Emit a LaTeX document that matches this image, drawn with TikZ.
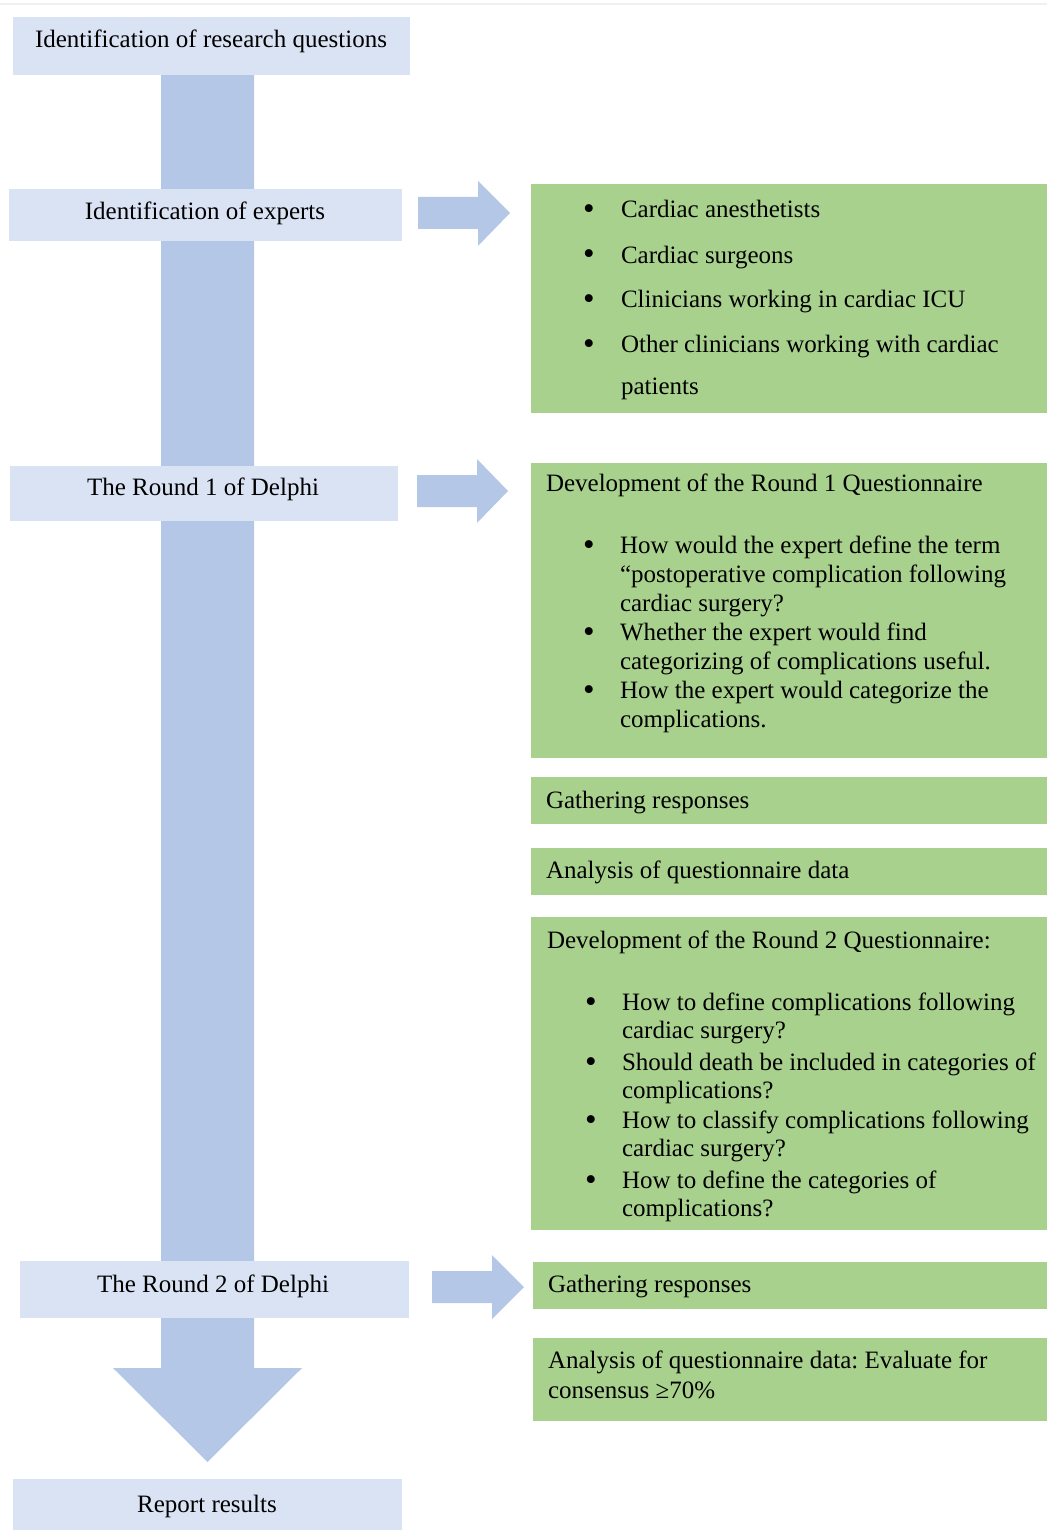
\documentclass[tikz,border=0pt]{standalone}
\usepackage{fontspec}
\setmainfont{Liberation Serif}
\frenchspacing
\definecolor{lightblue}{HTML}{DAE3F3}
\definecolor{arrowblue}{HTML}{B4C7E7}
\definecolor{boxgreen}{HTML}{A9D18E}
\begin{document}
\begin{tikzpicture}[x=1pt,y=-1pt,
  every node/.style={inner sep=0pt, outer sep=0pt, font=\fontsize{25}{29}\selectfont},
  bluebox/.style={fill=lightblue, draw=none, anchor=north west},
  greenbox/.style={fill=boxgreen, draw=none, anchor=north west},
  ctxt/.style={anchor=base},
  ltxt/.style={anchor=base west, align=left},
  bul/.style={anchor=base, font=\fontsize{33}{33}\selectfont, yshift=-2pt},
  blockarrow/.style={fill=arrowblue, draw=none}]
\useasboundingbox (0,0) rectangle (1047,1530);
\draw[line width=1.5pt, black!6] (0,4) -- (1047,4);

% main vertical arrow
\fill[blockarrow] (161,75) -- (254,75) -- (254,1368) -- (302,1368) -- (207.5,1462)
  -- (113,1368) -- (161,1368) -- cycle;

% left blue boxes
\node[bluebox, minimum width=397, minimum height=58] (rq) at (13,17) {};
\node[ctxt] (rqt) at (211,48) {Identification of research questions};
\node[bluebox, minimum width=393, minimum height=52] (exp) at (9,189) {};
\node[ctxt] (expt) at (205,220) {Identification of experts};
\node[bluebox, minimum width=388, minimum height=55] (r1) at (10,466) {};
\node[ctxt] (r1t) at (203,495) {The Round 1 of Delphi};
\node[bluebox, minimum width=389, minimum height=57] (r2) at (20,1261) {};
\node[ctxt] (r2t) at (213,1292) {The Round 2 of Delphi};
\node[bluebox, minimum width=389, minimum height=52] (rep) at (13,1479) {};
\node[ctxt] (rept) at (207,1512) {Report results};

% right block arrows
\fill[blockarrow] (418,197) -- (478,197) -- (478,181) -- (510,213) -- (478,246) -- (478,229) -- (418,229) -- cycle;
\fill[blockarrow] (417,475) -- (477,475) -- (477,459) -- (508,491) -- (477,523) -- (477,507) -- (417,507) -- cycle;
\fill[blockarrow] (432,1271) -- (492,1271) -- (492,1255) -- (524,1287) -- (492,1319) -- (492,1303) -- (432,1303) -- cycle;

% green boxes
\node[greenbox, minimum width=516, minimum height=229] (g1) at (531,184) {};
\node[greenbox, minimum width=516, minimum height=295] (g2) at (531,463) {};
\node[greenbox, minimum width=516, minimum height=47] (g3) at (531,777) {};
\node[greenbox, minimum width=516, minimum height=47] (g4) at (531,848) {};
\node[greenbox, minimum width=516, minimum height=313] (g5) at (531,917) {};
\node[greenbox, minimum width=514, minimum height=47] (g6) at (533,1262) {};
\node[greenbox, minimum width=514, minimum height=83] (g7) at (533,1338) {};

% G1 experts list
\node[bul] (b11) at (589,218) {\textbullet};
\node[ltxt] (t11) at (621,218) {Cardiac anesthetists};
\node[bul] (b12) at (589,263) {\textbullet};
\node[ltxt] (t12) at (621,263) {Cardiac surgeons};
\node[bul] (b13) at (589,307) {\textbullet};
\node[ltxt] (t13) at (621,307) {Clinicians working in cardiac ICU};
\node[bul] (b14) at (589,352) {\textbullet};
\node[ltxt] (t14) at (621,352) {Other clinicians working with cardiac};
\node[ltxt] (t15) at (621,394) {patients};

% G2 round 1 questionnaire (base anchor = last line)
\node[ltxt] (g2t) at (546,491) {Development of the Round 1 Questionnaire};
\node[bul] (b21) at (589,553) {\textbullet};
\node[ltxt] (t21) at (620,611) {How would the expert define the term\\``postoperative complication following\\cardiac surgery?};
\node[bul] (b22) at (589,640) {\textbullet};
\node[ltxt] (t22) at (620,669) {Whether the expert would find\\categorizing of complications useful.};
\node[bul] (b23) at (589,698) {\textbullet};
\node[ltxt] (t23) at (620,727) {How the expert would categorize the\\complications.};

% G3, G4
\node[ltxt] (g3t) at (546,808) {Gathering responses};
\node[ltxt] (g4t) at (546,878) {Analysis of questionnaire data};

% G5 round 2 questionnaire
\node[ltxt] (g5t) at (547,948) {Development of the Round 2 Questionnaire:};
\begin{scope}[ltxt/.append style={font=\fontsize{25}{28}\selectfont}]
\node[bul] (b51) at (591,1010) {\textbullet};
\node[ltxt] (t51) at (622,1038) {How to define complications following\\cardiac surgery?};
\node[bul] (b52) at (591,1070) {\textbullet};
\node[ltxt] (t52) at (622,1098) {Should death be included in categories of\\complications?};
\node[bul] (b53) at (591,1128) {\textbullet};
\node[ltxt] (t53) at (622,1156) {How to classify complications following\\cardiac surgery?};
\node[bul] (b54) at (591,1188) {\textbullet};
\node[ltxt] (t54) at (622,1216) {How to define the categories of\\complications?};
\end{scope}

% G6, G7
\node[ltxt] (g6t) at (548,1292) {Gathering responses};
\node[ltxt, font=\fontsize{25}{30}\selectfont] (g7t) at (548,1398) {Analysis of questionnaire data: Evaluate for\\consensus ≥70\%};
\end{tikzpicture}
\end{document}
